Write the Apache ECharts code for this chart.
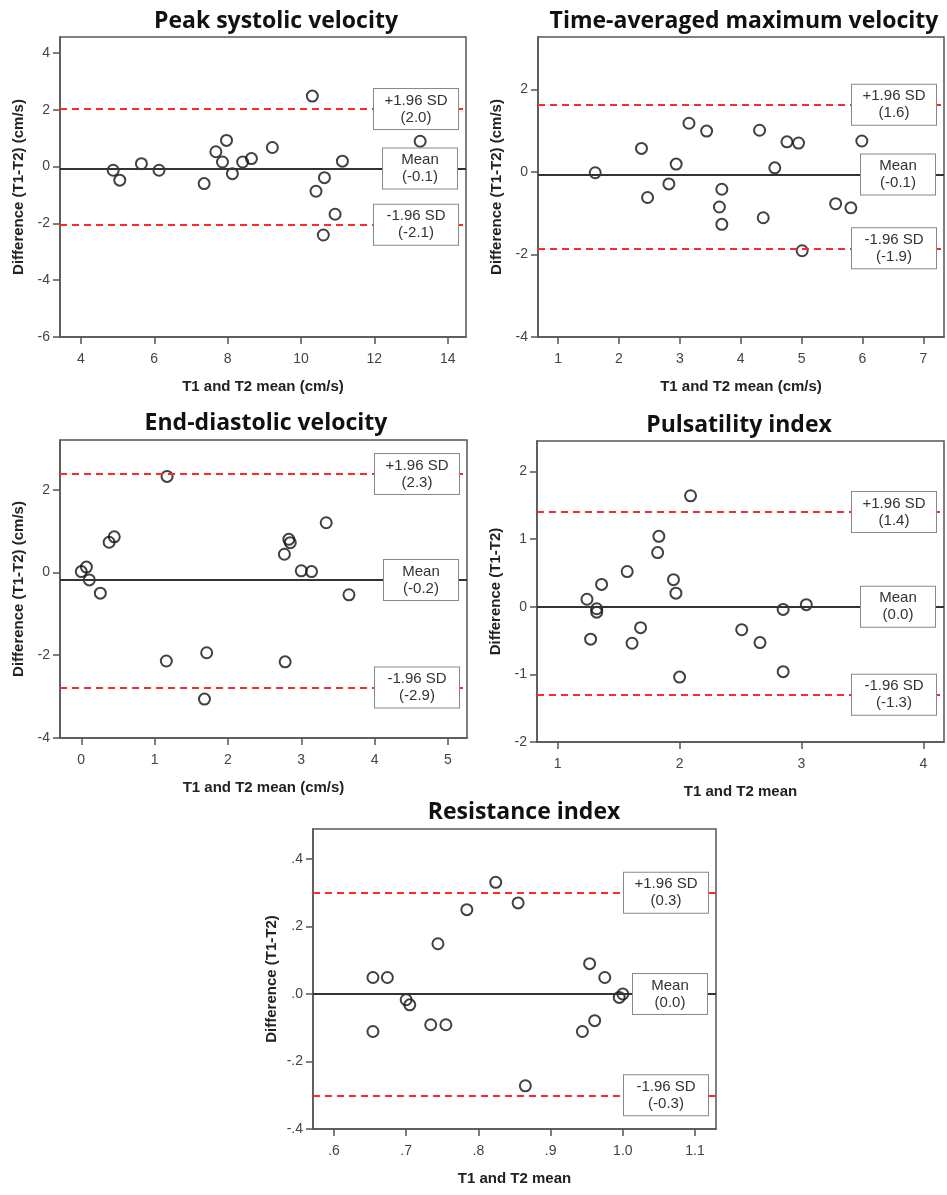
<!DOCTYPE html>
<html><head><meta charset="utf-8">
<script src="https://cdn.jsdelivr.net/npm/echarts@6/dist/echarts.min.js"></script>
<style>html,body{margin:0;padding:0;background:#fff}#c{width:947px;height:1195px}</style>
</head><body><div id="c"></div>
<script>
// ---------- DATA ----------
const titles = ['Peak systolic velocity', 'Time-averaged maximum velocity', 'End-diastolic velocity', 'Pulsatility index', 'Resistance index'];
const xNames = ['T1 and T2 mean (cm/s)', 'T1 and T2 mean (cm/s)', 'T1 and T2 mean (cm/s)', 'T1 and T2 mean', 'T1 and T2 mean'];
const yNames = ['Difference (T1-T2) (cm/s)', 'Difference (T1-T2) (cm/s)', 'Difference (T1-T2) (cm/s)', 'Difference (T1-T2)', 'Difference (T1-T2)'];

// Peak systolic velocity
const psvMean = [4.88, 5.06, 5.65, 6.13, 7.36, 7.68, 7.86, 7.97, 8.13, 8.41, 8.65, 9.22, 10.31, 10.41, 10.64, 10.93, 10.61, 11.13, 13.25];
const psvDiff = [-0.13, -0.48, 0.10, -0.13, -0.60, 0.52, 0.16, 0.92, -0.25, 0.16, 0.28, 0.67, 2.48, -0.87, -0.39, -1.68, -2.41, 0.19, 0.89];
const psvLines = [2.03, -0.07, -2.05];
const psvLineText = ['+1.96 SD\n(2.0)', 'Mean\n(-0.1)', '-1.96 SD\n(-2.1)'];
const psvXTicks = [4, 6, 8, 10, 12, 14];
const psvYTicks = [-6, -4, -2, 0, 2, 4];

// Time-averaged maximum velocity
const tavMean = [1.61, 2.37, 2.47, 2.82, 2.94, 3.15, 3.44, 3.69, 3.65, 3.69, 4.31, 4.37, 4.56, 4.76, 4.95, 5.01, 5.56, 5.81, 5.99];
const tavDiff = [-0.02, 0.57, -0.62, -0.29, 0.19, 1.18, 0.99, -0.42, -0.85, -1.27, 1.01, -1.11, 0.10, 0.73, 0.70, -1.91, -0.77, -0.87, 0.75];
const tavLines = [1.63, -0.06, -1.85];
const tavLineText = ['+1.96 SD\n(1.6)', 'Mean\n(-0.1)', '-1.96 SD\n(-1.9)'];
const tavXTicks = [1, 2, 3, 4, 5, 6, 7];
const tavYTicks = [-4, -2, 0, 2];

// End-diastolic velocity
const edvMean = [0.00, 0.07, 0.11, 0.26, 0.38, 0.45, 1.17, 1.16, 1.71, 1.68, 2.78, 2.77, 2.83, 2.85, 3.00, 3.14, 3.34, 3.65];
const edvDiff = [0.02, 0.13, -0.18, -0.50, 0.73, 0.86, 2.32, -2.14, -1.94, -3.06, -2.16, 0.44, 0.80, 0.72, 0.04, 0.02, 1.20, -0.54];
const edvLines = [2.38, -0.18, -2.78];
const edvLineText = ['+1.96 SD\n(2.3)', 'Mean\n(-0.2)', '-1.96 SD\n(-2.9)'];
const edvXTicks = [0, 1, 2, 3, 4, 5];
const edvYTicks = [-4, -2, 0, 2];

// Pulsatility index
const piMean = [2.09, 1.83, 1.82, 1.57, 1.36, 1.95, 1.97, 1.24, 1.32, 1.32, 1.27, 1.61, 1.68, 2.00, 2.51, 2.66, 2.85, 2.85, 3.04];
const piDiff = [1.64, 1.04, 0.80, 0.52, 0.33, 0.40, 0.20, 0.11, -0.03, -0.08, -0.48, -0.54, -0.31, -1.04, -0.34, -0.53, -0.04, -0.96, 0.03];
const piLines = [1.40, 0.00, -1.30];
const piLineText = ['+1.96 SD\n(1.4)', 'Mean\n(0.0)', '-1.96 SD\n(-1.3)'];
const piXTicks = [1, 2, 3, 4];
const piYTicks = [-2, -1, 0, 1, 2];

// Resistance index
const riMean = [0.654, 0.674, 0.654, 0.700, 0.705, 0.734, 0.755, 0.744, 0.784, 0.824, 0.855, 0.865, 0.944, 0.954, 0.961, 0.975, 0.995, 1.000];
const riDiff = [0.049, 0.049, -0.111, -0.017, -0.032, -0.091, -0.091, 0.149, 0.250, 0.331, 0.270, -0.272, -0.111, 0.090, -0.079, 0.049, -0.010, 0.000];
const riLines = [0.30, 0.00, -0.30];
const riLineText = ['+1.96 SD\n(0.3)', 'Mean\n(0.0)', '-1.96 SD\n(-0.3)'];
const riXTicks = [0.6, 0.7, 0.8, 0.9, 1.0, 1.1];
const riYTicks = [-0.4, -0.2, 0.0, 0.2, 0.4];

// ---------- LAYOUT ----------
const panels = [
  {x: psvMean, y: psvDiff, lines: psvLines, text: psvLineText, xt: psvXTicks, yt: psvYTicks,
   grid: {left: 60, top: 37, width: 406, height: 300}, xr: [3.43, 14.5], yr: [-6, 4.56], tx: 276, ty: 21, fmt: 'int'},
  {x: tavMean, y: tavDiff, lines: tavLines, text: tavLineText, xt: tavXTicks, yt: tavYTicks,
   grid: {left: 538, top: 37, width: 406, height: 300}, xr: [0.67, 7.34], yr: [-4, 3.27], tx: 744, ty: 21, fmt: 'int'},
  {x: edvMean, y: edvDiff, lines: edvLines, text: edvLineText, xt: edvXTicks, yt: edvYTicks,
   grid: {left: 60, top: 440, width: 407, height: 298}, xr: [-0.29, 5.26], yr: [-4, 3.2], tx: 266, ty: 423, fmt: 'int'},
  {x: piMean, y: piDiff, lines: piLines, text: piLineText, xt: piXTicks, yt: piYTicks,
   grid: {left: 537, top: 441, width: 407, height: 301}, xr: [0.83, 4.17], yr: [-2, 2.45], tx: 739, ty: 425, fmt: 'int'},
  {x: riMean, y: riDiff, lines: riLines, text: riLineText, xt: riXTicks, yt: riYTicks,
   grid: {left: 313, top: 829, width: 403, height: 300}, xr: [0.571, 1.129], yr: [-0.4, 0.489], tx: 524, ty: 812, fmt: 'dec'}
];

const FONT = '"Liberation Sans", Arial, sans-serif';
const frame = '#555';
function fmtDec(v) { return Number(v).toFixed(1).replace(/^(-?)0\./, '$1.'); }
function fmtInt(v) { return String(Math.round(v)); }

const option = {
  animation: false,
  backgroundColor: '#fff',
  grid: [], xAxis: [], yAxis: [], series: [], graphic: []
};

panels.forEach((p, i) => {
  option.grid.push(Object.assign({show: true, borderColor: frame, borderWidth: 1.5, backgroundColor: '#fff'}, p.grid));
  const f = p.fmt === 'dec' ? fmtDec : fmtInt;
  option.xAxis.push({
    gridIndex: i, type: 'value', min: p.xr[0], max: p.xr[1],
    name: xNames[i], nameLocation: 'middle', nameGap: 42,
    nameTextStyle: {fontFamily: FONT, fontWeight: 'bold', fontSize: 15, color: '#222'},
    axisLine: {show: true, onZero: false, lineStyle: {color: frame, width: 1.5}},
    axisTick: {show: true, length: 7, customValues: p.xt, lineStyle: {color: frame, width: 1.5}},
    axisLabel: {customValues: p.xt, margin: 15, fontSize: 14, color: '#444', fontFamily: FONT, formatter: f},
    splitLine: {show: false}
  });
  option.yAxis.push({
    gridIndex: i, type: 'value', min: p.yr[0], max: p.yr[1],
    name: yNames[i], nameLocation: 'middle', nameGap: 34,
    nameTextStyle: {fontFamily: FONT, fontWeight: 'bold', fontSize: 15, color: '#222'},
    axisLine: {show: true, onZero: false, lineStyle: {color: frame, width: 1.5}},
    axisTick: {show: true, length: 7, customValues: p.yt, lineStyle: {color: frame, width: 1.5}},
    axisLabel: {customValues: p.yt, margin: 10, fontSize: 14, color: '#444', fontFamily: FONT, formatter: f},
    splitLine: {show: false}
  });
  const lbl = (txt, w, d) => ({
    show: true, position: 'insideEnd', formatter: txt, align: 'center', verticalAlign: 'middle',
    distance: d, backgroundColor: '#fff', borderColor: '#888', borderWidth: 1,
    padding: [3, 0], width: w, lineHeight: 17, fontSize: 15, color: '#333', fontFamily: FONT
  });
  const dashed = {color: '#ff2a2a', type: [7, 5], width: 2};
  option.series.push({
    type: 'scatter', xAxisIndex: i, yAxisIndex: i, silent: true,
    data: p.x.map((v, k) => [v, p.y[k]]),
    symbol: 'circle', symbolSize: 11,
    itemStyle: {color: 'rgba(0,0,0,0)', borderColor: '#111', borderWidth: 2},
    markLine: {
      silent: true, symbol: 'none', animation: false,
      data: [
        {yAxis: p.lines[0], lineStyle: dashed, label: lbl(p.text[0], 84, 50)},
        {yAxis: p.lines[1], lineStyle: {color: '#333', type: 'solid', width: 2}, label: lbl(p.text[1], 74, 46)},
        {yAxis: p.lines[2], lineStyle: dashed, label: lbl(p.text[2], 84, 50)}
      ]
    }
  });
  option.graphic.push({
    type: 'text', x: p.tx, y: p.ty, silent: true,
    style: {text: titles[i], fill: '#111', font: 'bold 23px "Open Sans", Lato, sans-serif', textAlign: 'center', textVerticalAlign: 'middle'}
  });
});

const chart = echarts.init(document.getElementById('c'), null, {renderer: 'canvas'});
chart.setOption(option);
</script>
</body></html>
